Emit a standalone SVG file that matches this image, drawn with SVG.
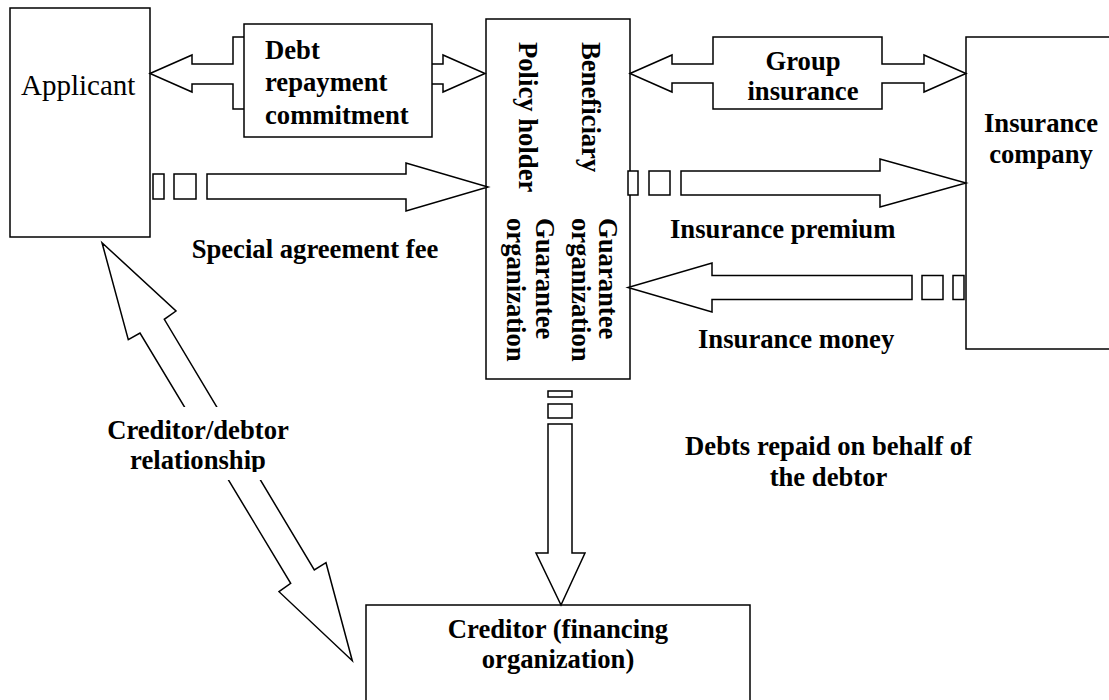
<svg xmlns="http://www.w3.org/2000/svg" width="1109" height="700" viewBox="0 0 1109 700">
  <defs>
    <style>
      .box { fill: #fff; stroke: #000; stroke-width: 1.5; }
      .arrow { fill: #fff; stroke: #000; stroke-width: 1.5; stroke-linejoin: miter; }
      .lbl { font-family: "Liberation Serif", "Times New Roman", serif; font-weight: bold; font-size: 26.67px; fill: #000; }
      .reg { font-family: "Liberation Serif", "Times New Roman", serif; font-size: 29px; fill: #000; }
      .mid { text-anchor: middle; }
    </style>
    <clipPath id="relClip">
      <rect x="90" y="405" width="220" height="67"/>
    </clipPath>
  </defs>
  <rect width="1109" height="700" fill="#fff"/>

  <!-- Main parties -->
  <g id="applicant">
    <rect class="box" x="10" y="8" width="140" height="229"/>
    <text class="reg" x="21" y="95">Applicant</text>
  </g>

  <g id="policy-holder">
    <rect class="box" x="486" y="19" width="144" height="360"/>
    <text class="lbl" transform="translate(582,42) rotate(90)">Beneficiary</text>
    <text class="lbl" transform="translate(519,42) rotate(90)">Policy holder</text>
    <text class="lbl" transform="translate(599,218) rotate(90)">Guarantee</text>
    <text class="lbl" transform="translate(572,218) rotate(90)">organization</text>
    <text class="lbl" transform="translate(536,218) rotate(90)">Guarantee</text>
    <text class="lbl" transform="translate(507,218) rotate(90)">organization</text>
  </g>

  <g id="insurance-company">
    <rect class="box" x="966" y="37" width="150" height="312"/>
    <text class="lbl mid" x="1041" y="132">Insurance</text>
    <text class="lbl mid" x="1041" y="163">company</text>
  </g>

  <g id="creditor">
    <rect class="box" x="366" y="605" width="384" height="110"/>
    <text class="lbl mid" x="558" y="638">Creditor (financing</text>
    <text class="lbl mid" x="558" y="668">organization)</text>
  </g>

  <!-- Flows between the parties -->
  <g id="connectors">
    <!-- debt repayment commitment: two-way callout -->
    <polygon class="arrow" points="150,73.5 192,55 192,64 233,64 233,37 402,37 402,64 443,64 443,55 485,73.5 443,92 443,84 402,84 402,109 233,109 233,84 192,84 192,92"/>
    <!-- group insurance: two-way callout -->
    <polygon class="arrow" points="630,73.5 672,55 672,64 713,64 713,37 882,37 882,64 924,64 924,55 966,73.5 924,92 924,83 882,83 882,109 713,109 713,83 672,83 672,92"/>

    <!-- special agreement fee: striped arrow -->
    <rect class="arrow" x="153" y="174" width="11" height="25"/>
    <rect class="arrow" x="174" y="174" width="22" height="25"/>
    <polygon class="arrow" points="207,174 406,174 406,163 488,187 406,211 406,199 207,199"/>

    <!-- insurance premium: striped arrow -->
    <rect class="arrow" x="628" y="171" width="10" height="24"/>
    <rect class="arrow" x="649" y="171" width="21" height="24"/>
    <polygon class="arrow" points="681,171 880,171 880,159 966,183 880,207 880,195 681,195"/>

    <!-- insurance money: striped arrow -->
    <rect class="arrow" x="953" y="275.5" width="11" height="24"/>
    <rect class="arrow" x="922" y="275.5" width="21" height="24"/>
    <polygon class="arrow" points="912,275.5 712,275.5 712,263 628,287.5 712,312 712,299.5 912,299.5"/>

    <!-- debts repaid on behalf of the debtor: striped arrow -->
    <rect class="arrow" x="548" y="391" width="24" height="6"/>
    <rect class="arrow" x="548" y="404" width="24" height="14"/>
    <polygon class="arrow" points="548,424 572,424 572,553 585,553 561,605 536,553 548,553"/>

    <!-- creditor/debtor relationship: two-way diagonal arrow -->
    <polygon class="arrow" points="102,242.7 176,311 164.3,319.3 314.3,570 326,562.7 352.3,660.7 279,591.7 290.7,583.3 140,333 128.3,339.7"/>

    <text class="lbl" x="315" y="258" text-anchor="middle">Special agreement fee</text>
    <text class="lbl" x="670" y="238">Insurance premium</text>
    <text class="lbl" x="698" y="348">Insurance money</text>
    <text class="lbl mid" x="828.5" y="455">Debts repaid on behalf of</text>
    <text class="lbl mid" x="828.5" y="486">the debtor</text>
  </g>

  <!-- text box laid over the commitment callout -->
  <g id="debt-commitment">
    <rect class="box" x="244" y="24" width="188" height="113"/>
    <text class="lbl" x="265" y="59">Debt</text>
    <text class="lbl" x="265" y="91">repayment</text>
    <text class="lbl" x="265" y="124">commitment</text>
  </g>

  <g id="group-insurance-label">
    <text class="lbl mid" x="803" y="70">Group</text>
    <text class="lbl mid" x="803" y="100">insurance</text>
  </g>

  <!-- label box laid over the diagonal arrow -->
  <g id="creditor-debtor-label">
    <rect x="95" y="407" width="205" height="73" fill="#fff"/>
    <g clip-path="url(#relClip)">
      <text class="lbl mid" x="198" y="439">Creditor/debtor</text>
      <text class="lbl mid" x="198" y="469">relationship</text>
    </g>
  </g>
</svg>
